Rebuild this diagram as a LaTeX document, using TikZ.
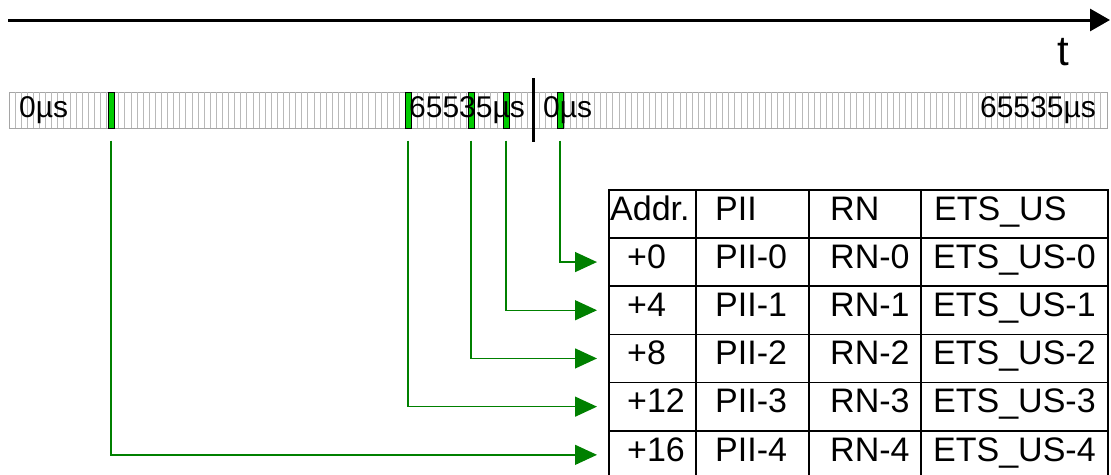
\documentclass[tikz,border=0pt]{standalone}
\usepackage{fontspec}
\setmainfont{Liberation Sans}
\usetikzlibrary{arrows.meta}
\definecolor{mkgreen}{RGB}{0,204,0}
\definecolor{lgreen}{RGB}{0,128,0}
\definecolor{tickgray}{RGB}{185,185,185}
\definecolor{bargray}{RGB}{165,165,165}
\begin{document}
\begin{tikzpicture}[x=1pt,y=-1pt,
  tl/.style={font=\fontsize{30}{30}\selectfont, inner sep=0, anchor=base west},
  tb/.style={font=\fontsize{34}{34}\selectfont, inner sep=0, anchor=base west},
  cell/.style={draw=black, line width=1.5pt, minimum height=48.2pt, inner sep=0, anchor=north west},
  marker/.style={draw=black, line width=1pt, fill=mkgreen, minimum width=6pt, minimum height=36pt, inner sep=0},
  garrow/.style={draw=lgreen, line width=1.4pt, -{Triangle[length=22pt,width=20pt]}, shorten <=12pt, shorten >=11pt},
]
\useasboundingbox (0,0) rectangle (1111,474);
% time axis
\coordinate (ts) at (8,20);
\coordinate (te) at (1110,20);
\draw[line width=3pt, -{Triangle[length=20pt,width=22pt]}] (ts) -- (te);
\node[font=\fontsize{42}{42}\selectfont, inner sep=0, anchor=base west] (tlabel) at (1057,65) {t};
% timeline bar
\node[draw=bargray, line width=1.2pt, minimum width=1098pt, minimum height=36pt, inner sep=0, anchor=north west] (bar) at (9,92) {};
\foreach \i in {1,...,179} \draw[tickgray, line width=1pt] (9+\i*6.1,92) -- (9+\i*6.1,128);
% markers
\node[marker] (mk4) at (111,110) {};
\node[marker] (mk3) at (408,110) {};
\node[marker] (mk2) at (471,110) {};
\node[marker] (mk1) at (506,110) {};
\node[marker] (mk0) at (560,110) {};
% labels
\node[tl] (l0) at (19,117) {0µs};
\node[tl] (l1) at (409,117) {65535µs};
\node[tl] (l2) at (543,117) {0µs};
\node[tl, anchor=base east] (l3) at (1096,117) {65535µs};
% separator
\coordinate (sa) at (533,78);
\coordinate (sb) at (533,142);
\draw[line width=3pt] (sa) -- (sb);
% table cells
\foreach \r in {0,...,5} {
  \foreach \c/\x/\w in {0/608/87,1/695/113,2/808/112,3/920/187} {
    \node[cell, minimum width=\w pt] (c\r\c) at (\x,189+\r*48.2) {};
  }
}
% header
\node[tb] (h0) at (610,220) {Addr.};
\node[tb] (h1) at (715,220) {PII};
\node[tb] (h2) at (830,220) {RN};
\node[tb] (h3) at (934,220) {ETS\_US};
% rows
\foreach \r/\k/\a in {1/0/+0,2/1/+4,3/2/+8,4/3/+12,5/4/+16} {
  \node[tb] (a\r) at (627,220+\r*48.2) {\a};
  \node[tb] (p\r) at (715,220+\r*48.2) {PII-\k};
  \node[tb] (n\r) at (830,220+\r*48.2) {RN-\k};
  \node[tb] (e\r) at (933,220+\r*48.2) {ETS\_US-\k};
}
% arrows
\draw[garrow] (mk0.south) |- (c10.west);
\draw[garrow] (mk1.south) |- (c20.west);
\draw[garrow] (mk2.south) |- (c30.west);
\draw[garrow] (mk3.south) |- (c40.west);
\draw[garrow] (mk4.south) |- (c50.west);
\end{tikzpicture}
\end{document}
